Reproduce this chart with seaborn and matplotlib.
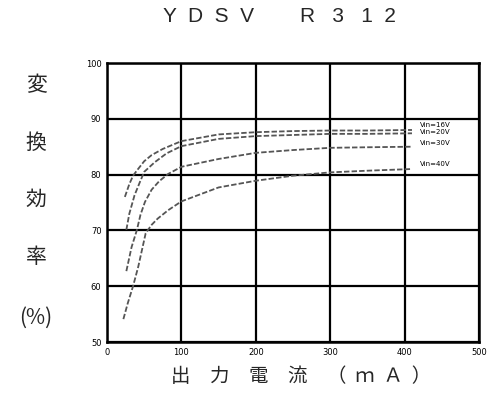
import numpy as np
import pandas as pd
import matplotlib
matplotlib.use("Agg")
import matplotlib.pyplot as plt
import seaborn as sns

# ---- data ----
x_16 = [24, 30, 35, 40, 50, 60, 75, 100, 150, 200, 250, 300, 350, 410]
y_16 = [76.0, 78.3, 79.8, 80.7, 82.4, 83.5, 84.6, 86.0, 87.2, 87.6, 87.8, 87.9, 87.9, 88.0]

x_20 = [26, 30, 37, 44, 50, 64, 80, 100, 150, 200, 250, 300, 350, 410]
y_20 = [70.1, 73.0, 76.3, 78.6, 80.5, 82.2, 83.8, 85.1, 86.4, 86.9, 87.1, 87.3, 87.3, 87.4]

x_30 = [26, 33, 40, 45, 51, 60, 70, 82, 100, 150, 200, 250, 300, 350, 410]
y_30 = [62.7, 67.0, 70.0, 72.8, 75.1, 77.3, 78.8, 80.1, 81.4, 82.8, 83.9, 84.4, 84.8, 84.9, 85.0]

x_40 = [22, 28, 35, 42, 52, 60, 68, 82, 100, 150, 200, 250, 300, 350, 410]
y_40 = [54.1, 57.0, 60.0, 63.5, 69.5, 71.0, 72.1, 73.6, 75.2, 77.7, 78.9, 79.8, 80.4, 80.7, 81.0]

series_names = ["Vin=16V", "Vin=20V", "Vin=30V", "Vin=40V"]
label_y = [88.9, 87.6, 85.7, 81.9]
x_ticks = [0, 100, 200, 300, 400, 500]
y_ticks = [50, 60, 70, 80, 90, 100]
title = "Y  D  S  V        R   3   1  2"
ylabel_chars = ["変", "換", "効", "率", "(%)"]
xlabel = "出　力　電　流　（  ｍ  Ａ  ）"

# ---- build long-form table ----
frames = []
for name, xs, ys in zip(series_names, [x_16, x_20, x_30, x_40], [y_16, y_20, y_30, y_40]):
    frames.append(pd.DataFrame({"mA": xs, "eff": ys, "Vin": name}))
df = pd.concat(frames, ignore_index=True)

sns.set_theme(style="white")
plt.rcParams['font.family'] = ['Noto Sans CJK JP', 'DejaVu Sans']

fig = plt.figure(figsize=(4.9, 3.98), dpi=100)
ax = fig.add_axes([0.2184, 0.1407, 0.759, 0.701])

sns.lineplot(data=df, x="mA", y="eff", hue="Vin", sort=False,
             palette=["#555555"] * 4, legend=False, ax=ax,
             linewidth=1.3, dashes=False, estimator=None)
for line in ax.get_lines():
    line.set_linestyle((0, (3, 1.2)))

ax.set_xlim(0, 500)
ax.set_ylim(50, 100)
ax.set_xticks(x_ticks)
ax.set_yticks(y_ticks)
ax.set_xticklabels([str(v) for v in x_ticks], fontsize=6, family='DejaVu Sans')
ax.set_yticklabels([str(v) for v in y_ticks], fontsize=6, family='DejaVu Sans')
ax.tick_params(axis='both', length=0, pad=4, colors='black')
ax.grid(True, color='black', linewidth=1.6)
for s in ax.spines.values():
    s.set_visible(True)
    s.set_color('black')
    s.set_linewidth(1.8)
ax.set_xlabel("")
ax.set_ylabel("")

for name, ly in zip(series_names, label_y):
    ax.text(421, ly, name, fontsize=5, va='center', ha='left', color='black',
            family='DejaVu Sans')

fig.text(279 / 490, 1 - 16 / 398, title, fontsize=15, ha='center', va='center',
         family=['Liberation Sans'])
fig.text(171 / 490, 1 - 377 / 398, xlabel, fontsize=14, ha='left', va='center')

ys_px = [85, 143, 200, 257, 318]
for ch, yp in zip(ylabel_chars, ys_px):
    fig.text(36 / 490, 1 - yp / 398, ch, fontsize=15, ha='center', va='center')

fig.savefig("out.png", dpi=100, facecolor='white')
